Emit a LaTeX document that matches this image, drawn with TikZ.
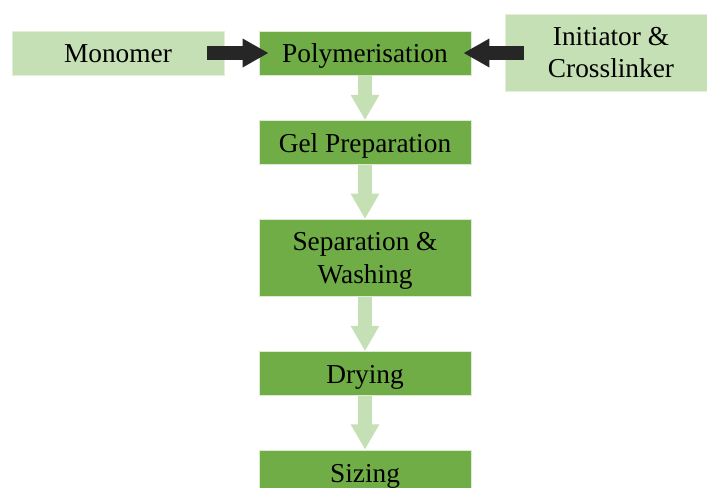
\documentclass[tikz,border=0pt]{standalone}
\usepackage{fontspec}
\setmainfont{Liberation Serif}
\usetikzlibrary{arrows.meta,calc}
\definecolor{darkgreen}{RGB}{112,173,71}
\definecolor{palegreen}{RGB}{197,224,180}
\definecolor{arrowgray}{RGB}{38,38,38}

\tikzset{
  stepbox/.style={fill=darkgreen, draw=palegreen!60!white, line width=0.6pt, minimum width=159pt, minimum height=33pt, inner sep=0pt, align=center, font=\fontsize{20.5}{24.5}\selectfont, text height=19pt, text depth=4pt},
  tallbox/.style={text height=, text depth=0pt, minimum height=58pt},
  inputbox/.style={stepbox, fill=palegreen, draw=palegreen!50!white},
  feedarrow/.style={draw=arrowgray, line width=10.5pt, -{Triangle[length=19.5pt,width=20.25pt]}},
  flowarrow/.style={draw=palegreen, line width=10.5pt, -{Triangle[length=19pt,width=20.25pt]}},
}

\begin{document}
\begin{tikzpicture}[x=0.75pt,y=0.75pt,yscale=-1,xscale=1]
\useasboundingbox (0,0) rectangle (707,488);
\clip (0,0) rectangle (707,488);

% Text Node
\node [inputbox] (mono) at (118,53) {Monomer};
% Text Node
\node [stepbox] (poly) at (365,53) {Polymerisation};
% Text Node
\node [inputbox, tallbox, minimum height=57.75pt] (init) at (611,52.5) {Initiator \&\\Crosslinker};
% Text Node
\node [stepbox] (gel) at (365,142.5) {Gel Preparation};
% Text Node
\node [stepbox, tallbox] (sep) at (365,258) {Separation \&\\Washing};
% Text Node
\node [stepbox] (dry) at (365,373.5) {Drying};
% Text Node
\node [stepbox] (size) at (365,472) {Sizing};

%Straight Lines
\draw [feedarrow] ($(mono.east)+(-17,0)$) -- ($(poly.west)+(10,0)$);
%Straight Lines
\draw [feedarrow] ($(init.west |- poly)+(19,0)$) -- ($(poly.east)+(-8,0)$);
%Straight Lines
\draw [flowarrow] (poly.south) -- (gel.north);
%Straight Lines
\draw [flowarrow] (gel.south) -- (sep.north);
%Straight Lines
\draw [flowarrow] (sep.south) -- (dry.north);
%Straight Lines
\draw [flowarrow] (dry.south) -- (size.north);
\end{tikzpicture}
\end{document}
